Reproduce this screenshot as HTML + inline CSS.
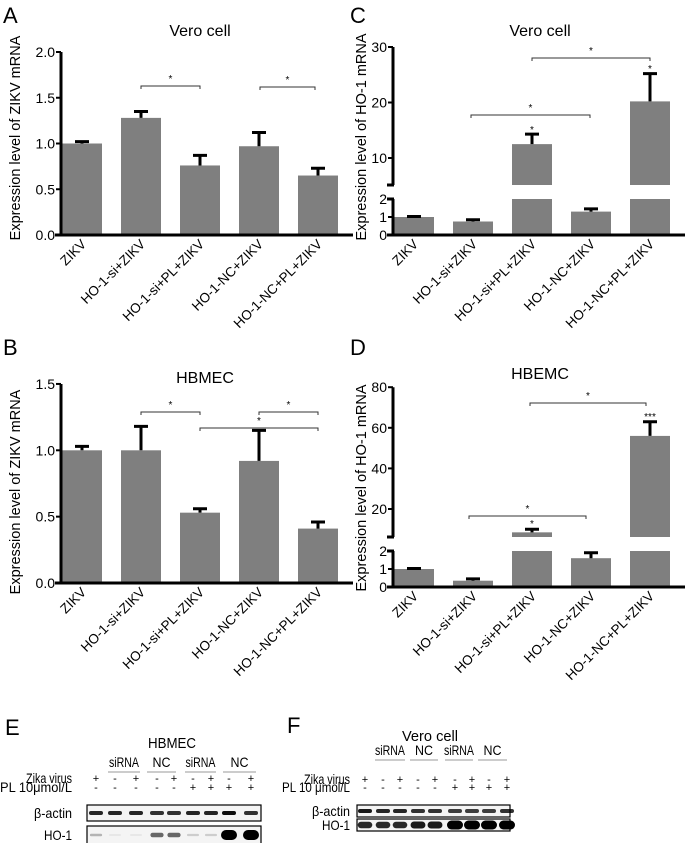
<!DOCTYPE html>
<html><head><meta charset="utf-8"><style>
html,body{margin:0;padding:0;background:#fff;}
svg{display:block;font-family:"Liberation Sans",Arial,sans-serif;}
</style></head><body>
<svg id="fig" width="690" height="843" viewBox="0 0 690 843">
<text x="3" y="23" font-size="22">A</text>
<text x="200" y="36" font-size="16" text-anchor="middle">Vero cell</text>
<text x="3" y="355" font-size="22">B</text>
<text x="205" y="383" font-size="16" text-anchor="middle">HBMEC</text>
<text x="350" y="23" font-size="22">C</text>
<text x="540" y="36" font-size="16" text-anchor="middle">Vero cell</text>
<text x="350" y="355" font-size="22">D</text>
<text x="540" y="379" font-size="16" text-anchor="middle">HBEMC</text>
<g id="charts"></g>
<text x="5" y="735" font-size="22">E</text>
<text x="172" y="748" font-size="15" text-anchor="middle" textLength="48" lengthAdjust="spacingAndGlyphs">HBMEC</text>
<text x="287" y="733" font-size="22">F</text>
<text x="430" y="741" font-size="15" text-anchor="middle" textLength="56" lengthAdjust="spacingAndGlyphs">Vero cell</text>
<g id="blots"></g>
</svg>
<script>
const NS="http://www.w3.org/2000/svg";
const categories=["ZIKV","HO-1-si+ZIKV","HO-1-si+PL+ZIKV","HO-1-NC+ZIKV","HO-1-NC+PL+ZIKV"];
const valuesA=[1.0,1.28,0.76,0.97,0.65];
const errorsA=[0.02,0.07,0.11,0.15,0.08];
const ticksA=[0,0.5,1.0,1.5,2.0];
const valuesB=[1.0,1.0,0.53,0.92,0.41];
const errorsB=[0.03,0.18,0.03,0.23,0.05];
const ticksB=[0,0.5,1.0,1.5];
const valuesC=[1.0,0.75,12.5,1.3,20.2];
const errorsC=[0.03,0.1,1.8,0.15,5.0];
const ticksCLow=[0,1,2];
const ticksCHigh=[10,20,30];
const valuesD=[1.0,0.35,8.5,1.6,56];
const errorsD=[0.03,0.1,1.5,0.3,7];
const ticksDLow=[0,1,2];
const ticksDHigh=[20,40,60,80];
const zikaRow=["+","-","+","-","+","-","+","-","+"];
const plRow=["-","-","-","-","-","+","+","+","+"];
const actinE=[0.85,0.85,0.85,0.8,0.8,0.85,0.85,0.95,0.8];
const ho1E=[0.25,0.05,0.05,0.55,0.55,0.15,0.15,1.0,1.0];
const actinF=[0.9,0.85,0.85,0.8,0.8,0.75,0.75,0.75,0.8];
const ho1F=[0.8,0.8,0.8,0.85,0.85,1.0,1.0,1.0,1.0];

const root=document.getElementById('charts');
function mk(tag,attrs,parent,txt){const e=document.createElementNS(NS,tag);for(const k in attrs)e.setAttribute(k,attrs[k]);if(txt!==undefined)e.textContent=txt;(parent||root).appendChild(e);return e;}

function chart(id,ox,axisY,ylab,scaleFn,ticks,values,errors,breakInfo,titleX,titleY){
  const g=mk('g',{});
  
  
  const xAt=i=>ox+29+i*59;
  values.forEach((v,i)=>{
    const cx=xAt(i);
    if(breakInfo && v>breakInfo.lowMax){
      const r1=mk('rect',{x:cx-20,y:scaleFn(breakInfo.lowMax),width:40,height:axisY-scaleFn(breakInfo.lowMax),fill:'#7f7f7f'},g);
      
      
      const r2=mk('rect',{x:cx-20,y:scaleFn(v),width:40,height:breakInfo.upBottom-scaleFn(v),fill:'#7f7f7f'},g);
      
      
    } else {
      const r=mk('rect',{x:cx-20,y:scaleFn(v),width:40,height:axisY-scaleFn(v),fill:'#7f7f7f'},g);
      
      
    }
    const top=scaleFn(v+errors[i]);
    const eb=mk('path',{d:`M${cx} ${scaleFn(v)}V${top}M${cx-7} ${top}H${cx+7}`,stroke:'#000','stroke-width':3,fill:'none'},g);
    
    
    const lx=cx+5, ly=axisY+10;
    const t=mk('text',{x:lx,y:ly,'font-size':13.5,'text-anchor':'end',transform:`rotate(-45 ${lx} ${ly})`},g,categories[i]);
    
    
  });
  const ax=ox+8;
  if(breakInfo){
    mk('path',{d:`M${ax} ${axisY}V${scaleFn(breakInfo.lowMax)}M${ax} ${breakInfo.upBottom}V${scaleFn(breakInfo.upMax)}M${ax-6} ${scaleFn(breakInfo.lowMax)}H${ax+1}M${ax-6} ${breakInfo.upBottom}H${ax+1}`,stroke:'#000','stroke-width':3,fill:'none'},g);
  } else {
    mk('path',{d:`M${ax} ${axisY}V${scaleFn(ticks[ticks.length-1])}`,stroke:'#000','stroke-width':3},g);
  }
  mk('path',{d:`M${ax-6} ${axisY}H${ox+300}`,stroke:'#000','stroke-width':3},g);
  ticks.forEach(tv=>{
    const y=scaleFn(tv);
    mk('path',{d:`M${ax-5} ${y}H${ax}`,stroke:'#000','stroke-width':2},g);
    const lbl=breakInfo?String(tv):tv.toFixed(1);
    const t=mk('text',{x:ax-6,y:y+5,'font-size':14,'text-anchor':'end'},g,lbl);
    
    
  });
  const yl=mk('text',{x:titleX,y:titleY,'font-size':14.5,'text-anchor':'middle',transform:`rotate(-90 ${titleX} ${titleY})`},g,ylab);
  
  
  return {g,xAt};
}
function bracket(g,x1,x2,y,lab){
  const p=mk('path',{d:`M${x1} ${y+3}V${y}H${x2}V${y+3}`,stroke:'#333','stroke-width':1,fill:'none'},g);
  
  
  mk('text',{x:(x1+x2)/2,y:y-4,'font-size':10,'text-anchor':'middle'},g,lab||'*');
}
function star(g,x,y,lab){mk('text',{x:x,y:y,'font-size':10,'text-anchor':'middle'},g,lab);}

const sA=v=>235-v*91.5;
const A=chart('a',53,235,'Expression level of ZIKV mRNA',sA,ticksA,valuesA,errorsA,null,20,138);
bracket(A.g,A.xAt(1),A.xAt(2),86);bracket(A.g,A.xAt(3)+1,A.xAt(4)-3,87);
const sB=v=>583-v*132.7;
const B=chart('b',53,583,'Expression level of ZIKV mRNA',sB,ticksB,valuesB,errorsB,null,20,492);
bracket(B.g,B.xAt(1),B.xAt(2),412);bracket(B.g,B.xAt(3),B.xAt(4),412);bracket(B.g,B.xAt(2),B.xAt(4),428);
const sC=v=>v<=2?235-v*18:158-(v-10)*5.55;
const C=chart('c',385,235,'Expression level of HO-1 mRNA',sC,ticksCLow.concat(ticksCHigh),valuesC,errorsC,{lowMax:2,upBottom:185,upMax:30},366,137);
bracket(C.g,C.xAt(1)-2,C.xAt(3)-1,115);bracket(C.g,C.xAt(2),C.xAt(4),58);
star(C.g,C.xAt(2),133,'*');star(C.g,C.xAt(4),72,'*');
const sD=v=>v<=2?587-v*18:509-(v-20)*2.03;
const D=chart('d',385,587,'Expression level of HO-1 mRNA',sD,ticksDLow.concat(ticksDHigh),valuesD,errorsD,{lowMax:2,upBottom:537,upMax:80},366,488);
bracket(D.g,D.xAt(1)-4,D.xAt(3)-5,516);bracket(D.g,D.xAt(2)-2,D.xAt(4)-4,403);
star(D.g,D.xAt(2),527,'*');star(D.g,D.xAt(4),420,'***');

const broot=document.getElementById('blots');
function blot(id,lanes,labelX,rows,boxes,groups,actin,ho1,maxH){
  const g=mk('g',{},broot);
  
  
  groups.forEach(gr=>{
    mk('text',{x:(gr[0]+gr[1])/2,y:gr[2],'font-size':14,'text-anchor':'middle',textLength:gr[4],lengthAdjust:'spacingAndGlyphs'},g,gr[3]);
    mk('path',{d:`M${gr[0]} ${gr[2]+5}H${gr[1]}`,stroke:'#999','stroke-width':1},g);
  });
  mk('text',{x:labelX,y:rows[0]+5,'font-size':14,'text-anchor':'end',textLength:46,lengthAdjust:'spacingAndGlyphs'},g,'Zika virus');
  mk('text',{x:labelX,y:rows[1]+5,'font-size':14,'text-anchor':'end',textLength:id==='e'?72:68,lengthAdjust:'spacingAndGlyphs'},g,id==='e'?'PL 10μmol/L':'PL 10 μmol/L');
  lanes.forEach((lx,i)=>{
    mk('text',{x:lx,y:rows[0]+4,'font-size':11,'text-anchor':'middle'},g,zikaRow[i]);
    mk('text',{x:lx,y:rows[1]+4,'font-size':11,'text-anchor':'middle'},g,plRow[i]);
  });
  const [bx1,bx2,ay1,ay2,hy1,hy2]=boxes;
  mk('text',{x:labelX,y:(ay1+ay2)/2+5,'font-size':14,'text-anchor':'end',textLength:38,lengthAdjust:'spacingAndGlyphs'},g,'β-actin');
  mk('text',{x:labelX,y:(hy1+hy2)/2+5,'font-size':14,'text-anchor':'end',textLength:28,lengthAdjust:'spacingAndGlyphs'},g,'HO-1');
  mk('rect',{x:bx1,y:ay1,width:bx2-bx1,height:ay2-ay1,fill:'#f4f4f4',stroke:'#000','stroke-width':1.2},g);
  mk('rect',{x:bx1,y:hy1,width:bx2-bx1,height:hy2-hy1,fill:'#f4f4f4',stroke:'#000','stroke-width':1.2},g);
  lanes.forEach((lx,i)=>{
    const a=mk('rect',{x:lx-7,y:(ay1+ay2)/2-2,width:14,height:4,rx:2,fill:'#000','fill-opacity':actin[i]},g);
    
    
    const h=ho1[i];
    const hh=2+h*h*(maxH-2), hw=12+h*h*4;
    const b=mk('rect',{x:lx-hw/2,y:(hy1+hy2)/2-hh/2,width:hw,height:hh,rx:hh/2,fill:'#000','fill-opacity':Math.min(1,h*1.05)},g);
    
    
  });
}
blot('e',[96,115,136,157,174,193,211,229,251],72,[778,787],[87,261,805,821,826,844],
  [[108,140,767,'siRNA',30],[147,176,767,'NC',18],[185,216,767,'siRNA',30],[223,256,767,'NC',18]],actinE,ho1E,10);
blot('f',[365,383,400,418,435,455,472,489,507],350,[779,787],[357,510,805,817,819,831],
  [[375,405,755,'siRNA',30],[410,438,755,'NC',18],[445,473,755,'siRNA',30],[478,507,755,'NC',18]],actinF,ho1F,9);
</script>
</body></html>
